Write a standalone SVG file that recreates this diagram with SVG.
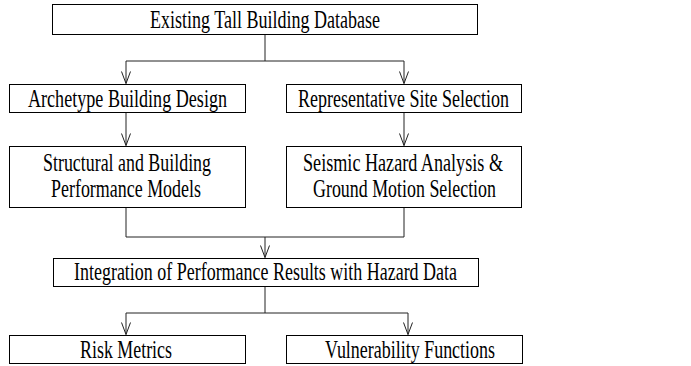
<svg xmlns="http://www.w3.org/2000/svg" width="691" height="366" viewBox="0 0 691 366">
<style>
.box{fill:#fff;stroke:#000;stroke-width:1}
.t{font-family:'Liberation Serif','Times New Roman','DejaVu Serif',serif;font-size:25px;fill:#000;text-anchor:middle}
.c{fill:none;stroke:#222;stroke-width:1}
</style>
<defs>
<marker id="ah" markerWidth="14" markerHeight="12" refX="13" refY="6" orient="auto" markerUnits="userSpaceOnUse" viewBox="0 0 14 12">
<path d="M1,1.5 L13,6 L1,10.5" fill="none" stroke="#222" stroke-width="1"/>
</marker>
</defs>
<rect width="691" height="366" fill="#fff"/>
<g id="connectors">
<path class="c" d="M265,34 V61 M126,61 H404"/>
<path class="c" d="M126,61 V83.5" marker-end="url(#ah)"/>
<path class="c" d="M404,61 V83.5" marker-end="url(#ah)"/>
<path class="c" d="M126,112 V145.5" marker-end="url(#ah)"/>
<path class="c" d="M404,112 V145.5" marker-end="url(#ah)"/>
<path class="c" d="M126,207 V237 H404 V207"/>
<path class="c" d="M265,237 V257.5" marker-end="url(#ah)"/>
<path class="c" d="M265,286 V313 M126,313 H408"/>
<path class="c" d="M126,313 V334.5" marker-end="url(#ah)"/>
<path class="c" d="M408,313 V334.5" marker-end="url(#ah)"/>
</g>
<g id="n-database">
<rect class="box" x="52.5" y="4.5" width="425" height="30"/>
<text class="t" x="265" y="28" textLength="230" lengthAdjust="spacingAndGlyphs">Existing Tall Building Database</text>
</g>
<g id="n-archetype">
<rect class="box" x="9.5" y="84.5" width="236" height="28"/>
<text class="t" x="127.5" y="107" textLength="199" lengthAdjust="spacingAndGlyphs">Archetype Building Design</text>
</g>
<g id="n-site">
<rect class="box" x="286.5" y="84.5" width="235" height="28"/>
<text class="t" x="403.5" y="107" textLength="211" lengthAdjust="spacingAndGlyphs">Representative Site Selection</text>
</g>
<g id="n-structural">
<rect class="box" x="9.5" y="146.5" width="236" height="61"/>
<text class="t" x="127" y="171" textLength="168" lengthAdjust="spacingAndGlyphs">Structural and Building</text>
<text class="t" x="126" y="197" textLength="150" lengthAdjust="spacingAndGlyphs">Performance Models</text>
</g>
<g id="n-hazard">
<rect class="box" x="286.5" y="146.5" width="235" height="61"/>
<text class="t" x="403" y="171" textLength="200" lengthAdjust="spacingAndGlyphs">Seismic Hazard Analysis &amp;</text>
<text class="t" x="404.5" y="197" textLength="183" lengthAdjust="spacingAndGlyphs">Ground Motion Selection</text>
</g>
<g id="n-integration">
<rect class="box" x="53.5" y="258.5" width="425" height="28"/>
<text class="t" x="265.5" y="280" textLength="383" lengthAdjust="spacingAndGlyphs">Integration of Performance Results with Hazard Data</text>
</g>
<g id="n-risk">
<rect class="box" x="9.5" y="335.5" width="236" height="28"/>
<text class="t" x="126" y="358" textLength="92" lengthAdjust="spacingAndGlyphs">Risk Metrics</text>
</g>
<g id="n-vulnerability">
<rect class="box" x="286.5" y="335.5" width="236" height="28"/>
<text class="t" x="410" y="358" textLength="170" lengthAdjust="spacingAndGlyphs">Vulnerability Functions</text>
</g>
</svg>
